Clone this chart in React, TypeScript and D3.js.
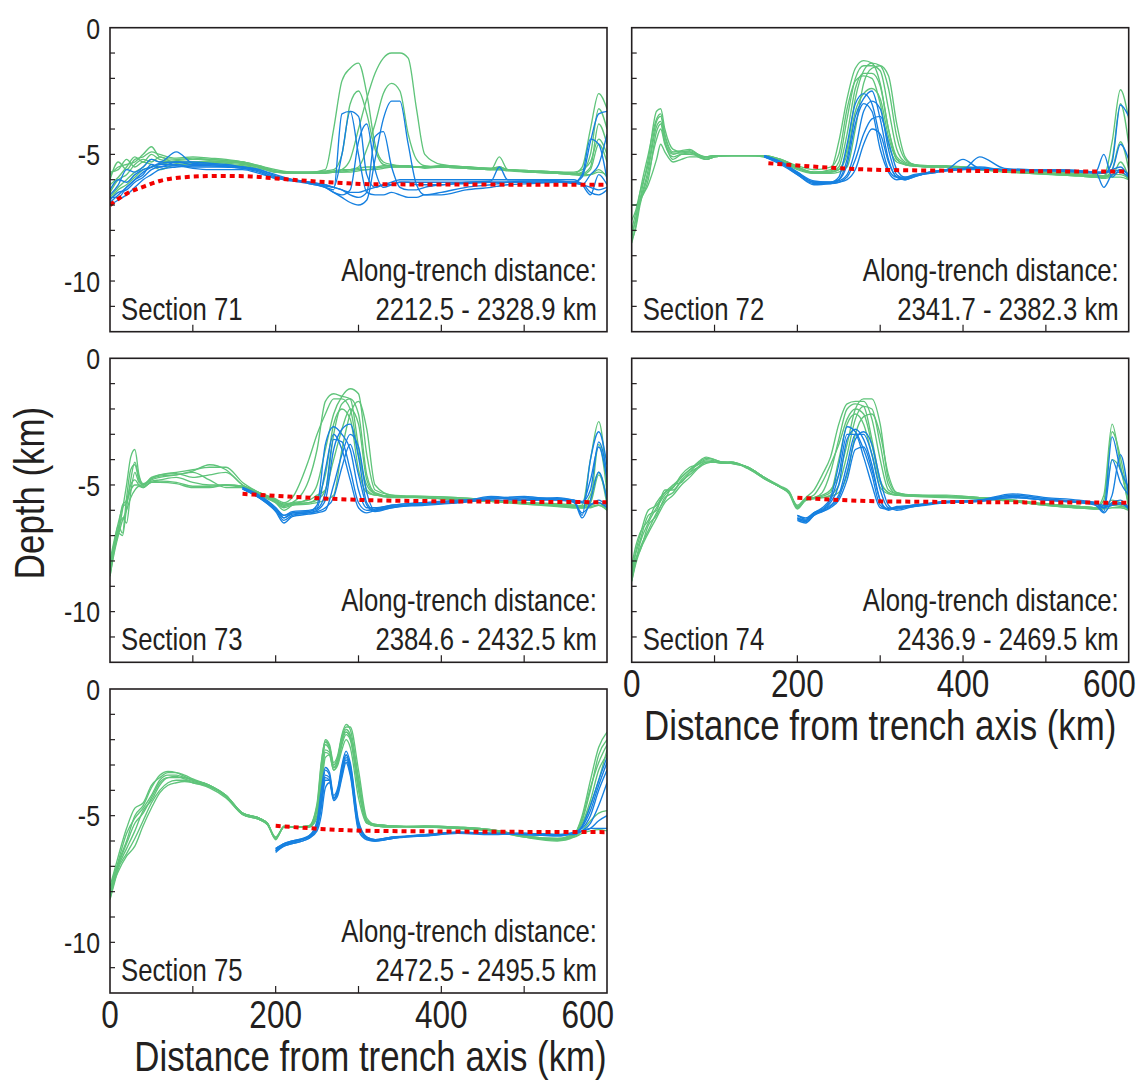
import React from 'react';
import * as d3 from 'd3';

// ---------- axes ----------
const DIST_TICKS = [0, 100, 200, 300, 400, 500, 600];
const DIST_LABELS = [0, 200, 400, 600];
const DEPTH_TICKS = [0, -1, -2, -3, -4, -5, -6, -7, -8, -9, -10, -11, -12];
const DEPTH_LABELS = [0, -5, -10];

const SECTION_NAMES = ['Section 71', 'Section 72', 'Section 73', 'Section 74', 'Section 75'];
const ALONG_TRENCH = [
  '2212.5 - 2328.9 km',
  '2341.7 - 2382.3 km',
  '2384.6 - 2432.5 km',
  '2436.9 - 2469.5 km',
  '2472.5 - 2495.5 km',
];

// ---------- Section 71 (distance km / elevation km) ----------
const grid71 = [0, 10, 20, 30, 40, 50, 60, 80, 100, 120, 140, 160, 180, 200, 220, 240, 260, 270, 280, 290, 300, 310, 320, 330, 340, 350, 360, 370, 380, 400, 430, 460, 470, 480, 510, 540, 560, 570, 580, 590, 600];
const green71 = [
  [-5.8, -5.5, -5.4, -5.3, -5.0, -4.7, -5.1, -5.2, -5.15, -5.2, -5.25, -5.3, -5.45, -5.6, -5.7, -5.7, -5.6, -4.0, -2.1, -1.6, -1.4, -2.6, -4.6, -5.3, -5.4, -5.45, -5.45, -5.5, -5.5, -5.5, -5.55, -5.6, -5.6, -5.6, -5.7, -5.75, -5.8, -5.7, -5.0, -3.2, -4.0],
  [-6.2, -5.9, -5.5, -5.1, -5.3, -5.0, -5.2, -5.3, -5.3, -5.25, -5.3, -5.35, -5.5, -5.65, -5.7, -5.75, -5.75, -5.7, -5.6, -5.2, -4.0, -2.8, -1.8, -1.2, -1.0, -1.0, -1.2, -3.2, -5.0, -5.4, -5.5, -5.55, -5.5, -5.6, -5.65, -5.7, -5.75, -5.5, -4.0, -2.6, -3.2],
  [-6.5, -6.0, -5.8, -5.4, -5.2, -5.3, -5.1, -5.35, -5.3, -5.3, -5.35, -5.4, -5.5, -5.7, -5.7, -5.7, -5.65, -5.6, -5.0, -3.0, -2.5, -3.4, -4.8, -5.4, -5.45, -5.45, -5.5, -5.5, -5.5, -5.5, -5.55, -5.6, -5.1, -5.6, -5.7, -5.75, -5.8, -5.8, -5.6, -4.6, -5.3],
  [-6.7, -6.3, -6.0, -5.7, -5.5, -5.2, -5.3, -5.25, -5.2, -5.2, -5.25, -5.3, -5.45, -5.65, -5.75, -5.75, -5.7, -5.7, -5.7, -5.65, -5.6, -5.6, -5.55, -5.5, -5.5, -5.5, -5.5, -5.5, -5.5, -5.45, -5.5, -5.55, -5.5, -5.6, -5.65, -5.7, -5.75, -5.75, -5.5, -3.8, -4.6],
  [-6.0, -5.3, -5.6, -5.2, -5.1, -4.9, -5.0, -5.15, -5.1, -5.15, -5.2, -5.3, -5.5, -5.7, -5.7, -5.7, -5.7, -5.65, -5.6, -5.6, -5.55, -5.5, -5.5, -5.45, -5.45, -5.45, -5.45, -5.5, -5.5, -5.45, -5.5, -5.6, -5.6, -5.6, -5.65, -5.7, -5.75, -5.8, -5.8, -5.7, -5.8],
  [-5.7, -5.6, -5.2, -5.5, -5.3, -5.4, -5.6, -5.4, -5.4, -5.35, -5.4, -5.45, -5.55, -5.7, -5.75, -5.75, -5.7, -5.7, -5.65, -5.6, -5.5, -4.8, -3.8, -2.6, -2.2, -2.5, -4.2, -5.2, -5.45, -5.5, -5.5, -5.55, -5.55, -5.6, -5.7, -5.7, -5.7, -5.6, -5.3, -4.4, -5.0],
  [-6.8, -6.4, -6.2, -5.9, -5.6, -5.5, -5.4, -5.3, -5.35, -5.3, -5.3, -5.35, -5.5, -5.7, -5.75, -5.75, -5.7, -5.7, -5.7, -5.7, -5.65, -5.6, -5.6, -5.55, -5.5, -5.5, -5.5, -5.5, -5.55, -5.5, -5.55, -5.6, -5.6, -5.65, -5.7, -5.75, -5.8, -5.85, -5.8, -5.6, -5.9],
];
const blueGrid71 = grid71;
const blue71 = [
  [-6.9, -6.6, -6.3, -6.0, -5.8, -5.4, -5.5, -5.3, -5.3, -5.35, -5.4, -5.5, -5.6, -5.8, -6.0, -6.1, -6.2, -6.3, -5.0, -3.3, -3.5, -5.8, -6.3, -6.2, -6.1, -6.0, -6.0, -6.0, -6.0, -6.0, -6.0, -6.0, -6.0, -6.0, -6.0, -6.05, -6.1, -5.9, -4.5, -3.4, -3.3],
  [-6.6, -6.2, -5.6, -5.7, -5.5, -5.2, -5.3, -4.9, -5.35, -5.4, -5.45, -5.5, -5.6, -5.85, -6.0, -6.1, -6.3, -6.5, -6.6, -6.4, -4.5, -3.8, -5.6, -6.3, -6.2, -6.1, -6.1, -6.2, -6.2, -6.2, -6.1, -6.05, -5.5, -6.0, -6.0, -6.0, -6.0, -6.2, -6.6, -5.8, -6.2],
  [-7.0, -6.8, -6.6, -6.3, -6.0, -5.8, -5.6, -5.5, -5.45, -5.45, -5.5, -5.55, -5.65, -5.9, -6.0, -6.15, -6.3, -6.5, -6.7, -6.9, -7.0, -6.8, -5.2, -3.6, -2.9, -2.9, -4.6, -6.2, -6.6, -6.5, -6.3, -6.2, -6.15, -6.1, -6.05, -6.05, -6.1, -5.8, -4.4, -4.6, -6.0],
  [-6.4, -6.0, -6.1, -5.8, -5.6, -5.5, -5.4, -5.4, -5.5, -5.5, -5.5, -5.55, -5.7, -5.95, -6.0, -6.1, -6.25, -6.3, -6.4, -6.5, -6.5, -6.4, -6.3, -6.2, -6.2, -6.1, -6.1, -6.1, -6.1, -6.1, -6.1, -6.1, -6.1, -6.1, -6.1, -6.1, -6.15, -6.2, -6.3, -6.4, -6.3],
  [-6.8, -6.5, -6.4, -6.1, -5.9, -5.6, -5.5, -5.45, -5.55, -5.6, -5.6, -5.6, -5.75, -5.95, -6.05, -6.15, -6.3, -6.4, -3.4, -3.3, -5.0, -6.5, -6.6, -6.6, -6.5, -6.6, -6.7, -6.7, -6.6, -6.6, -6.4, -6.3, -6.25, -6.2, -6.15, -6.1, -6.1, -6.2, -5.8, -5.4, -4.2],
  [-6.7, -6.7, -6.3, -6.0, -5.7, -5.5, -5.35, -5.3, -5.4, -5.4, -5.45, -5.5, -5.65, -5.9, -6.0, -6.1, -6.2, -6.3, -6.4, -6.6, -6.7, -6.5, -4.3, -4.1, -5.5, -6.3, -6.4, -6.4, -6.3, -6.2, -6.15, -6.1, -6.1, -6.1, -6.1, -6.1, -6.1, -6.15, -6.5, -6.6, -6.4],
];
const ref71: [number, number][] = [[0, -7.0], [20, -6.55], [40, -6.28], [60, -6.05], [90, -5.9], [130, -5.85], [170, -5.87], [200, -5.95], [240, -6.05], [280, -6.13], [320, -6.18], [600, -6.2]];

// ---------- Section 72 ----------
const grid72 = [0, 5, 10, 20, 30, 35, 40, 50, 60, 70, 80, 90, 100, 120, 140, 160, 180, 200, 220, 240, 250, 260, 270, 280, 290, 300, 310, 320, 330, 340, 360, 380, 400, 420, 450, 480, 510, 540, 560, 570, 580, 590, 600];
const green72 = [
  [-8.5, -7.8, -6.8, -5.2, -3.3, -3.2, -4.0, -4.8, -4.9, -4.85, -5.0, -5.1, -5.05, -5.05, -5.05, -5.05, -5.2, -5.5, -5.7, -5.6, -4.5, -2.8, -1.6, -1.3, -1.4, -2.2, -4.0, -5.2, -5.4, -5.45, -5.45, -5.5, -5.55, -5.6, -5.65, -5.7, -5.75, -5.8, -5.85, -5.85, -5.2, -3.0, -4.6],
  [-8.3, -7.5, -6.5, -5.0, -3.6, -3.4, -4.2, -4.9, -4.85, -4.8, -5.0, -5.2, -5.1, -5.05, -5.05, -5.05, -5.25, -5.55, -5.7, -5.65, -5.3, -3.6, -2.0, -1.5, -1.5, -1.7, -3.2, -4.8, -5.3, -5.4, -5.5, -5.5, -5.55, -5.6, -5.65, -5.7, -5.8, -5.85, -5.9, -5.9, -5.6, -4.5, -5.6],
  [-8.0, -7.3, -6.8, -5.6, -3.9, -3.7, -4.5, -5.0, -4.9, -4.9, -5.05, -5.1, -5.05, -5.05, -5.05, -5.05, -5.2, -5.5, -5.75, -5.7, -5.6, -4.8, -2.8, -1.7, -1.4, -1.5, -2.4, -4.3, -5.2, -5.4, -5.45, -5.5, -5.5, -5.55, -5.6, -5.7, -5.75, -5.8, -5.85, -5.85, -4.5, -2.45, -3.6],
  [-7.6, -7.2, -6.5, -5.4, -3.7, -3.5, -4.3, -4.95, -4.95, -4.9, -5.1, -5.2, -5.1, -5.05, -5.05, -5.05, -5.3, -5.6, -5.75, -5.7, -5.5, -4.2, -2.4, -1.8, -1.8, -2.3, -4.0, -5.1, -5.35, -5.45, -5.5, -5.5, -5.55, -5.6, -5.7, -5.75, -5.8, -5.85, -5.9, -5.9, -5.8, -5.7, -6.0],
  [-7.0, -7.0, -6.8, -6.0, -4.1, -3.8, -4.5, -5.2, -5.0, -4.95, -5.0, -5.15, -5.05, -5.05, -5.05, -5.05, -5.2, -5.45, -5.6, -5.5, -5.0, -3.2, -2.1, -1.9, -2.0, -3.0, -4.6, -5.3, -5.4, -5.45, -5.45, -5.45, -5.5, -5.55, -5.6, -5.65, -5.7, -5.75, -5.8, -5.85, -5.8, -5.8, -5.95],
  [-8.4, -7.9, -7.0, -5.8, -4.4, -4.0, -4.6, -5.1, -5.0, -5.0, -5.05, -5.1, -5.05, -5.05, -5.05, -5.1, -5.3, -5.55, -5.75, -5.75, -5.7, -5.5, -4.0, -2.2, -1.6, -1.5, -1.9, -3.8, -5.1, -5.4, -5.5, -5.5, -5.55, -5.6, -5.65, -5.75, -5.8, -5.85, -5.9, -5.95, -5.9, -5.9, -6.0],
  [-8.1, -7.6, -6.9, -6.2, -5.2, -4.6, -4.9, -5.3, -5.2, -5.1, -5.1, -5.2, -5.1, -5.05, -5.05, -5.1, -5.25, -5.5, -5.7, -5.7, -5.6, -5.0, -3.3, -2.6, -2.4, -2.8, -4.3, -5.2, -5.4, -5.45, -5.45, -5.5, -5.5, -5.55, -5.65, -5.7, -5.75, -5.8, -5.85, -5.9, -5.85, -5.3, -5.9],
];
const blueGrid72 = [160, 180, 200, 220, 240, 250, 260, 270, 280, 290, 300, 310, 320, 330, 340, 360, 380, 400, 420, 450, 480, 510, 540, 560, 570, 580, 590, 600];
const blue72 = [
  [-5.05, -5.3, -5.7, -6.1, -6.1, -5.9, -4.6, -3.0, -2.6, -3.0, -4.4, -5.6, -5.9, -5.9, -5.8, -5.7, -5.6, -5.55, -5.55, -5.6, -5.6, -5.6, -5.65, -5.7, -5.7, -5.6, -4.6, -5.2],
  [-5.1, -5.35, -5.8, -6.15, -6.15, -6.0, -5.2, -3.5, -2.8, -2.5, -3.6, -5.2, -5.9, -6.0, -5.9, -5.7, -5.6, -5.2, -5.55, -5.6, -5.6, -5.65, -5.65, -5.7, -5.0, -5.9, -5.6, -5.8],
  [-5.05, -5.3, -5.75, -6.1, -6.1, -6.05, -5.8, -4.8, -3.3, -2.9, -3.2, -4.8, -5.8, -5.95, -5.85, -5.75, -5.65, -5.6, -5.1, -5.55, -5.6, -5.65, -5.7, -5.7, -5.75, -5.3, -3.05, -3.5],
  [-5.1, -5.4, -5.8, -6.2, -6.15, -6.1, -6.0, -5.6, -4.6, -4.0, -4.2, -5.3, -5.9, -6.0, -5.9, -5.7, -5.6, -5.55, -5.55, -5.6, -5.6, -5.6, -5.65, -5.7, -6.3, -5.8, -5.7, -5.9],
  [-5.05, -5.3, -5.7, -6.05, -6.1, -6.0, -5.4, -3.8, -3.0, -3.3, -4.8, -5.7, -6.0, -5.95, -5.85, -5.75, -5.65, -5.6, -5.6, -5.6, -5.65, -5.65, -5.7, -5.75, -5.75, -5.6, -5.5, -5.9],
  [-5.1, -5.35, -5.75, -6.1, -6.15, -6.1, -5.9, -5.2, -4.2, -3.6, -3.5, -4.5, -5.6, -5.9, -5.85, -5.7, -5.6, -5.55, -5.5, -5.6, -5.6, -5.6, -5.65, -5.7, -5.7, -5.7, -5.6, -5.8],
];
const ref72: [number, number][] = [[165, -5.35], [312, -5.62], [600, -5.68]];

// ---------- Section 73 ----------
const grid73 = [0, 5, 10, 15, 20, 25, 30, 35, 40, 50, 60, 80, 100, 120, 140, 160, 180, 200, 210, 220, 240, 250, 260, 270, 280, 290, 300, 310, 320, 340, 380, 420, 460, 500, 540, 560, 570, 580, 590, 600];
const green73 = [
  [-8.6, -7.6, -6.9, -6.0, -5.0, -3.9, -3.6, -4.6, -5.0, -4.7, -4.6, -4.5, -4.4, -4.3, -4.3, -4.9, -5.3, -5.6, -5.8, -5.7, -4.8, -3.6, -1.7, -1.4, -1.5, -1.6, -3.5, -5.2, -5.4, -5.45, -5.5, -5.6, -5.65, -5.7, -5.8, -5.85, -5.8, -4.0, -2.5, -5.0],
  [-8.4, -7.4, -6.6, -6.9, -5.5, -4.4, -4.2, -4.8, -5.0, -4.8, -4.7, -4.6, -4.45, -4.2, -4.4, -5.0, -5.35, -5.7, -6.0, -5.8, -5.5, -5.0, -3.6, -2.2, -1.5, -1.2, -1.4, -3.8, -5.2, -5.4, -5.5, -5.55, -5.6, -5.7, -5.8, -5.85, -5.85, -5.4, -4.5, -5.8],
  [-8.2, -7.3, -6.7, -5.8, -5.6, -5.0, -4.8, -5.0, -5.1, -4.85, -4.8, -4.7, -4.9, -5.0, -5.0, -5.05, -5.3, -5.6, -5.75, -5.7, -5.6, -5.4, -5.2, -3.0, -1.8, -1.6, -2.2, -4.6, -5.3, -5.45, -5.45, -5.5, -5.6, -5.7, -5.75, -5.8, -5.85, -5.6, -3.4, -5.3],
  [-8.5, -7.5, -6.8, -6.3, -6.5, -5.3, -4.5, -4.9, -5.0, -4.75, -4.6, -4.55, -4.7, -4.6, -4.5, -5.0, -5.35, -5.65, -5.85, -5.75, -5.7, -5.5, -4.6, -2.6, -2.0, -2.4, -4.4, -5.3, -5.4, -5.45, -5.5, -5.55, -5.65, -5.75, -5.8, -5.9, -5.9, -5.8, -5.7, -6.0],
  [-8.0, -7.2, -6.5, -5.9, -5.7, -5.2, -5.0, -5.0, -5.05, -4.9, -4.85, -4.9, -5.05, -5.05, -5.0, -5.05, -5.3, -5.55, -5.7, -5.5, -4.0, -3.0, -2.2, -1.6, -1.6, -2.0, -3.8, -5.0, -5.35, -5.45, -5.5, -5.6, -5.65, -5.75, -5.85, -5.9, -5.9, -5.9, -5.8, -6.0],
  [-8.3, -7.4, -6.9, -7.0, -5.9, -4.8, -4.1, -4.7, -4.95, -4.75, -4.65, -4.6, -4.5, -4.8, -5.1, -5.1, -5.4, -5.7, -5.9, -5.8, -5.75, -5.7, -5.6, -5.4, -3.6, -2.2, -1.7, -2.8, -5.0, -5.4, -5.45, -5.5, -5.6, -5.7, -5.75, -5.8, -5.85, -5.7, -4.6, -5.5],
  [-8.6, -7.7, -7.0, -6.4, -6.0, -5.5, -5.2, -5.05, -5.1, -4.9, -4.9, -4.95, -5.1, -5.1, -5.0, -5.1, -5.3, -5.6, -5.8, -5.75, -5.7, -5.6, -5.2, -4.0, -2.8, -2.0, -2.6, -4.8, -5.35, -5.5, -5.5, -5.6, -5.65, -5.7, -5.8, -5.85, -5.9, -5.85, -5.8, -5.95],
];
const blueGrid73 = [160, 180, 200, 210, 220, 240, 250, 260, 270, 280, 290, 300, 310, 320, 340, 380, 420, 460, 500, 540, 560, 570, 580, 590, 600];
const blue73 = [
  [-5.1, -5.4, -5.9, -6.3, -6.1, -6.05, -5.8, -3.4, -2.7, -3.0, -3.6, -5.2, -5.9, -5.9, -5.8, -5.7, -5.65, -5.5, -5.6, -5.55, -5.6, -6.2, -4.0, -2.9, -4.2],
  [-5.15, -5.5, -6.0, -6.4, -6.2, -6.1, -6.0, -5.6, -3.6, -2.8, -2.6, -3.9, -5.7, -6.0, -5.85, -5.75, -5.7, -5.45, -5.55, -5.5, -5.6, -5.7, -4.8, -3.5, -4.8],
  [-5.1, -5.45, -5.95, -6.2, -6.1, -6.05, -5.95, -5.3, -3.2, -3.3, -4.4, -5.7, -6.0, -5.95, -5.8, -5.7, -5.65, -5.55, -5.45, -5.6, -5.65, -6.3, -5.6, -4.5, -5.6],
  [-5.15, -5.5, -6.05, -6.5, -6.25, -6.15, -6.1, -6.0, -5.0, -3.8, -3.0, -3.5, -5.3, -6.0, -5.9, -5.75, -5.7, -5.6, -5.6, -5.6, -5.65, -5.7, -5.75, -5.7, -5.9],
  [-5.1, -5.45, -5.9, -6.2, -6.05, -6.0, -5.9, -4.4, -3.0, -3.6, -4.8, -5.9, -6.1, -6.0, -5.85, -5.8, -5.7, -5.5, -5.6, -5.55, -5.7, -6.1, -5.8, -5.6, -5.85],
  [-5.15, -5.5, -6.0, -6.3, -6.15, -6.1, -6.05, -5.9, -5.5, -4.3, -3.4, -4.6, -5.8, -6.05, -5.9, -5.7, -5.6, -5.55, -5.5, -5.55, -5.6, -5.65, -5.2, -3.3, -4.5],
];
const ref73: [number, number][] = [[160, -5.35], [340, -5.62], [600, -5.68]];

// ---------- Section 74 ----------
const grid74 = [0, 5, 10, 20, 30, 40, 50, 60, 70, 80, 90, 100, 110, 120, 140, 160, 180, 190, 200, 210, 220, 230, 240, 250, 260, 270, 280, 290, 300, 310, 320, 340, 380, 420, 460, 500, 540, 560, 570, 580, 590, 600];
const green74 = [
  [-8.8, -8.0, -7.3, -6.5, -5.9, -5.4, -5.1, -4.7, -4.4, -4.2, -4.0, -4.05, -4.1, -4.1, -4.3, -4.7, -5.1, -5.3, -5.8, -5.5, -5.2, -4.6, -3.9, -2.6, -1.8, -1.7, -1.7, -2.4, -4.0, -5.2, -5.35, -5.4, -5.45, -5.5, -5.6, -5.75, -5.85, -5.9, -5.4, -2.6, -4.2, -5.8],
  [-8.5, -7.7, -7.2, -6.2, -6.0, -5.2, -5.2, -4.8, -4.5, -4.3, -4.1, -4.1, -4.1, -4.15, -4.3, -4.75, -5.1, -5.3, -5.9, -5.6, -5.5, -5.3, -4.5, -3.2, -2.0, -1.8, -1.9, -3.2, -4.8, -5.3, -5.4, -5.4, -5.45, -5.5, -5.65, -5.8, -5.9, -5.9, -5.8, -4.0, -4.4, -5.9],
  [-8.7, -8.0, -7.5, -6.8, -6.1, -5.6, -5.0, -4.9, -4.5, -4.15, -3.95, -4.0, -4.1, -4.1, -4.3, -4.7, -5.05, -5.25, -5.85, -5.6, -5.5, -5.4, -5.2, -4.6, -3.4, -2.0, -1.6, -1.6, -2.6, -4.8, -5.3, -5.4, -5.4, -5.5, -5.6, -5.75, -5.85, -5.9, -5.6, -2.9, -3.9, -5.6],
  [-8.2, -7.4, -6.9, -6.4, -5.7, -5.3, -5.1, -4.6, -4.3, -4.2, -4.05, -4.1, -4.15, -4.1, -4.35, -4.75, -5.1, -5.3, -5.9, -5.55, -5.4, -4.9, -4.2, -3.4, -2.4, -2.0, -2.2, -3.4, -4.9, -5.3, -5.4, -5.45, -5.45, -5.55, -5.65, -5.8, -5.9, -5.95, -5.9, -5.7, -5.8, -5.95],
  [-8.6, -7.9, -7.6, -6.6, -6.2, -5.5, -5.3, -4.85, -4.6, -4.3, -4.1, -4.1, -4.1, -4.15, -4.3, -4.7, -5.1, -5.3, -5.85, -5.6, -5.5, -5.5, -5.4, -5.0, -3.8, -2.4, -1.9, -2.0, -3.4, -5.0, -5.35, -5.4, -5.45, -5.5, -5.6, -5.75, -5.85, -5.9, -5.9, -5.8, -5.85, -5.9],
  [-8.4, -7.6, -7.0, -6.0, -5.8, -5.3, -5.0, -4.7, -4.4, -4.1, -3.9, -4.0, -4.1, -4.1, -4.35, -4.75, -5.1, -5.35, -5.95, -5.6, -5.5, -5.45, -5.3, -4.0, -2.6, -2.2, -2.6, -3.8, -5.1, -5.35, -5.4, -5.45, -5.5, -5.55, -5.65, -5.8, -5.9, -5.95, -5.95, -5.9, -5.9, -6.0],
  [-8.8, -8.1, -7.6, -6.9, -6.3, -5.7, -5.4, -5.0, -4.7, -4.35, -4.15, -4.1, -4.15, -4.15, -4.3, -4.7, -5.1, -5.3, -5.9, -5.6, -5.55, -5.5, -5.45, -5.3, -4.6, -3.0, -2.3, -2.2, -3.0, -4.6, -5.3, -5.4, -5.45, -5.5, -5.6, -5.75, -5.85, -5.9, -5.85, -5.6, -5.7, -5.9],
];
const blueGrid74 = [200, 210, 220, 230, 240, 250, 260, 270, 280, 290, 300, 310, 320, 340, 380, 420, 460, 500, 540, 560, 570, 580, 590, 600];
const blue74 = [
  [-6.3, -6.4, -6.1, -5.9, -5.5, -4.2, -2.7, -2.9, -3.6, -4.6, -5.8, -5.95, -5.9, -5.8, -5.65, -5.6, -5.4, -5.55, -5.65, -5.7, -5.9, -3.1, -4.4, -5.1],
  [-6.2, -6.3, -6.1, -6.0, -5.7, -5.0, -3.2, -2.8, -3.2, -4.2, -5.6, -5.95, -5.9, -5.85, -5.7, -5.6, -5.35, -5.5, -5.6, -5.7, -5.9, -5.4, -3.8, -5.5],
  [-6.4, -6.5, -6.2, -6.0, -5.8, -5.4, -4.2, -3.0, -3.0, -3.8, -5.2, -5.9, -5.95, -5.8, -5.7, -5.65, -5.5, -5.6, -5.7, -5.8, -6.1, -5.7, -5.6, -5.9],
  [-6.3, -6.4, -6.15, -6.05, -5.9, -5.6, -4.8, -3.6, -3.5, -4.4, -5.6, -6.0, -5.9, -5.85, -5.65, -5.6, -5.45, -5.6, -5.65, -5.75, -5.8, -5.75, -5.7, -5.95],
  [-6.2, -6.35, -6.1, -5.95, -5.6, -4.6, -3.0, -3.0, -3.9, -5.0, -5.9, -5.95, -5.85, -5.8, -5.7, -5.65, -5.4, -5.55, -5.65, -5.7, -6.05, -4.0, -4.9, -5.4],
  [-6.35, -6.45, -6.2, -6.05, -5.85, -5.5, -4.5, -3.2, -2.9, -3.4, -4.8, -5.8, -6.0, -5.85, -5.65, -5.6, -5.5, -5.6, -5.7, -5.75, -5.9, -5.8, -5.75, -5.9],
];
const ref74: [number, number][] = [[200, -5.5], [308, -5.65], [600, -5.7]];

// ---------- Section 75 ----------
const grid75 = [0, 5, 10, 20, 30, 40, 50, 60, 70, 80, 90, 100, 120, 140, 160, 180, 190, 200, 210, 220, 240, 250, 255, 260, 265, 270, 275, 280, 285, 290, 300, 310, 320, 340, 380, 420, 460, 500, 540, 560, 570, 580, 590, 600];
const green75 = [
  [-8.3, -7.6, -6.9, -6.0, -5.0, -4.6, -3.9, -3.4, -3.25, -3.3, -3.45, -3.6, -3.8, -4.2, -4.9, -5.1, -5.3, -5.9, -5.45, -5.45, -5.4, -4.6, -3.0, -2.0, -2.2, -2.9, -2.6, -1.8, -1.4, -1.6, -3.5, -5.2, -5.35, -5.4, -5.45, -5.45, -5.55, -5.8, -5.95, -5.75, -5.0, -3.6, -2.3, -1.7],
  [-8.1, -7.4, -6.8, -5.7, -5.1, -4.7, -4.2, -3.6, -3.4, -3.4, -3.5, -3.6, -3.8, -4.25, -4.95, -5.15, -5.35, -5.85, -5.45, -5.45, -5.45, -4.8, -3.3, -2.2, -2.4, -3.1, -2.8, -2.0, -1.6, -1.8, -3.8, -5.25, -5.4, -5.4, -5.45, -5.5, -5.6, -5.85, -5.95, -5.8, -5.2, -4.0, -2.6, -2.0],
  [-8.2, -7.5, -7.0, -6.3, -5.6, -4.8, -4.4, -3.8, -3.5, -3.45, -3.55, -3.65, -3.85, -4.2, -4.9, -5.1, -5.3, -5.9, -5.45, -5.45, -5.4, -5.0, -3.8, -2.5, -2.6, -3.2, -2.9, -2.2, -1.8, -2.0, -4.0, -5.3, -5.4, -5.45, -5.4, -5.45, -5.55, -5.8, -5.9, -5.7, -5.3, -4.4, -3.2, -2.6],
  [-7.8, -7.2, -6.6, -5.5, -4.7, -4.5, -3.8, -3.5, -3.3, -3.3, -3.4, -3.55, -3.8, -4.2, -4.9, -5.1, -5.3, -5.95, -5.4, -5.45, -5.4, -4.5, -2.9, -2.05, -2.3, -3.0, -2.7, -1.9, -1.5, -1.5, -3.2, -5.1, -5.35, -5.4, -5.45, -5.5, -5.6, -5.85, -6.0, -5.85, -5.6, -5.2, -4.9, -4.8],
  [-8.3, -7.7, -7.1, -6.5, -5.9, -5.2, -4.5, -4.0, -3.7, -3.6, -3.6, -3.7, -3.85, -4.25, -4.95, -5.15, -5.35, -5.9, -5.45, -5.45, -5.45, -5.1, -4.0, -2.7, -2.6, -3.2, -3.0, -2.4, -2.0, -2.3, -4.3, -5.3, -5.4, -5.45, -5.45, -5.5, -5.6, -5.8, -5.95, -5.8, -5.4, -4.6, -3.6, -2.4],
  [-8.0, -7.3, -6.9, -6.1, -5.3, -4.9, -4.3, -3.7, -3.5, -3.5, -3.5, -3.6, -3.8, -4.2, -4.9, -5.1, -5.3, -5.85, -5.45, -5.45, -5.4, -4.7, -3.2, -2.1, -2.3, -3.0, -2.7, -1.9, -1.7, -1.9, -3.6, -5.2, -5.35, -5.4, -5.45, -5.5, -5.55, -5.8, -5.9, -5.85, -5.7, -5.6, -5.55, -5.6],
  [-8.2, -7.6, -7.2, -6.6, -6.2, -5.4, -4.7, -4.1, -3.8, -3.7, -3.65, -3.7, -3.9, -4.3, -4.95, -5.15, -5.35, -5.9, -5.45, -5.45, -5.45, -5.0, -3.6, -2.4, -2.5, -3.1, -2.9, -2.1, -1.7, -1.9, -3.9, -5.25, -5.4, -5.45, -5.4, -5.45, -5.55, -5.8, -5.95, -5.75, -5.1, -3.9, -2.9, -2.2],
];
const blueGrid75 = [200, 210, 220, 240, 250, 255, 260, 265, 270, 275, 280, 285, 290, 300, 310, 320, 340, 380, 420, 460, 500, 540, 560, 570, 580, 590, 600];
const blue75 = [
  [-6.4, -6.15, -6.05, -5.85, -5.2, -4.0, -3.1, -3.3, -4.2, -3.9, -3.0, -2.45, -2.9, -5.2, -5.85, -5.95, -5.85, -5.75, -5.65, -5.7, -5.7, -5.75, -5.7, -5.4, -4.6, -3.6, -2.7],
  [-6.3, -6.1, -6.0, -5.8, -5.4, -4.5, -3.4, -3.5, -4.3, -4.0, -3.2, -2.6, -3.1, -5.4, -5.9, -6.0, -5.9, -5.8, -5.7, -5.75, -5.7, -5.75, -5.65, -5.5, -5.0, -4.0, -3.2],
  [-6.45, -6.2, -6.1, -5.9, -5.6, -5.0, -3.9, -3.7, -4.4, -4.2, -3.5, -2.9, -3.4, -5.6, -5.95, -6.0, -5.9, -5.75, -5.65, -5.7, -5.75, -5.8, -5.7, -5.6, -5.3, -4.6, -3.7],
  [-6.35, -6.15, -6.05, -5.8, -5.3, -4.3, -3.2, -3.4, -4.3, -4.0, -3.1, -2.6, -3.0, -5.3, -5.85, -5.95, -5.85, -5.8, -5.7, -5.7, -5.7, -5.75, -5.75, -5.6, -5.5, -5.2, -5.0],
  [-6.4, -6.2, -6.1, -5.9, -5.5, -4.7, -3.6, -3.6, -4.35, -4.1, -3.3, -2.8, -3.3, -5.5, -5.9, -6.0, -5.9, -5.75, -5.7, -5.7, -5.75, -5.8, -5.7, -5.6, -5.5, -5.5, -5.5],
  [-6.3, -6.1, -6.0, -5.85, -5.45, -4.6, -3.5, -3.6, -4.3, -4.1, -3.4, -2.7, -3.2, -5.4, -5.9, -5.95, -5.85, -5.8, -5.65, -5.7, -5.7, -5.75, -5.7, -5.45, -4.8, -3.8, -2.9],
];
const ref75: [number, number][] = [[200, -5.4], [315, -5.6], [600, -5.65]];

// ---------- layout ----------
const W = 1146;
const H = 1084;
const PW = 497;
const PH = 304;
const COL_X = [110, 631.7];
const ROW_Y = [27.7, 358.3, 689];
const GREEN = '#5fc47a';
const BLUE = '#1680e0';
const RED = '#f20000';
const INK = '#231f20';
const FONT = "'Liberation Sans', Arial, sans-serif";
// horizontal squeeze giving the condensed sans look
const NARROW = 0.83;

type NarrowProps = {
  x: number;
  y: number;
  size: number;
  anchor?: 'start' | 'middle' | 'end';
  rotate?: number;
  dy?: string;
  children: React.ReactNode;
};

function NarrowText({ x, y, size, anchor = 'start', rotate = 0, dy, children }: NarrowProps) {
  const rot = rotate ? ` rotate(${rotate})` : '';
  return (
    <text
      transform={`translate(${x},${y})${rot} scale(${NARROW},1)`}
      textAnchor={anchor}
      fontSize={size}
      dy={dy}
      fill={INK}
    >
      {children}
    </text>
  );
}

type PanelDef = {
  col: number;
  row: number;
  grid: number[];
  green: number[][];
  blueGrid: number[];
  blue: number[][];
  ref: [number, number][];
  xLabels: boolean;
  yLabels: boolean;
};

const PANELS: PanelDef[] = [
  { col: 0, row: 0, grid: grid71, green: green71, blueGrid: blueGrid71, blue: blue71, ref: ref71, xLabels: false, yLabels: true },
  { col: 1, row: 0, grid: grid72, green: green72, blueGrid: blueGrid72, blue: blue72, ref: ref72, xLabels: false, yLabels: false },
  { col: 0, row: 1, grid: grid73, green: green73, blueGrid: blueGrid73, blue: blue73, ref: ref73, xLabels: false, yLabels: true },
  { col: 1, row: 1, grid: grid74, green: green74, blueGrid: blueGrid74, blue: blue74, ref: ref74, xLabels: true, yLabels: false },
  { col: 0, row: 2, grid: grid75, green: green75, blueGrid: blueGrid75, blue: blue75, ref: ref75, xLabels: true, yLabels: true },
];

function Panel({ def, index }: { def: PanelDef; index: number }) {
  const left = COL_X[def.col];
  const top = ROW_Y[def.row];
  const x = d3.scaleLinear().domain([0, 600]).range([left, left + PW]);
  const y = d3.scaleLinear().domain([0, -12]).range([top, top + PH]);
  const line = d3
    .line<[number, number]>()
    .x((d) => x(d[0]))
    .y((d) => y(d[1]))
    .curve(d3.curveMonotoneX);
  const clipId = `clip-${index}`;
  const bottom = top + PH;
  const right = left + PW;
  const lastLabel = DIST_LABELS[DIST_LABELS.length - 1];

  return (
    <g>
      <defs>
        <clipPath id={clipId}>
          <rect x={left} y={top} width={PW} height={PH} />
        </clipPath>
      </defs>
      <g clipPath={`url(#${clipId})`}>
        {def.green.map((p, i) => (
          <path
            key={`g${i}`}
            d={line(d3.zip(def.grid, p) as [number, number][]) || ''}
            fill="none"
            stroke={GREEN}
            strokeWidth={1.35}
          />
        ))}
        {def.blue.map((p, i) => (
          <path
            key={`b${i}`}
            d={line(d3.zip(def.blueGrid, p) as [number, number][]) || ''}
            fill="none"
            stroke={BLUE}
            strokeWidth={1.35}
          />
        ))}
        <path d={line(def.ref) || ''} fill="none" stroke={RED} strokeWidth={4} strokeDasharray="5 4" />
      </g>
      <rect x={left} y={top} width={PW} height={PH} fill="none" stroke={INK} strokeWidth={1.6} />
      {DEPTH_TICKS.slice(1, -1).map((t) => (
        <line key={`yt${t}`} x1={left} x2={left + 5} y1={y(t)} y2={y(t)} stroke={INK} strokeWidth={1.2} />
      ))}
      {DIST_TICKS.slice(1, -1).map((t) => (
        <line key={`xt${t}`} x1={x(t)} x2={x(t)} y1={bottom} y2={bottom - 7} stroke={INK} strokeWidth={1.2} />
      ))}
      {def.yLabels &&
        DEPTH_LABELS.map((t) => (
          <NarrowText key={`yl${t}`} x={left - 10} y={y(t)} dy="0.36em" size={30} anchor="end">
            {t === 0 ? '0' : `-${Math.abs(t)}`}
          </NarrowText>
        ))}
      {def.xLabels &&
        DIST_LABELS.map((t) =>
          t === lastLabel ? (
            <NarrowText key={`xl${t}`} x={x(t) + 7} y={bottom + 35} size={38} anchor="end">
              {t}
            </NarrowText>
          ) : (
            <NarrowText key={`xl${t}`} x={x(t)} y={bottom + 35} size={38} anchor="middle">
              {t}
            </NarrowText>
          )
        )}
      <NarrowText x={left + 11} y={bottom - 12} size={31}>
        {SECTION_NAMES[index]}
      </NarrowText>
      <NarrowText x={right - 10} y={bottom - 51} size={31} anchor="end">
        Along-trench distance:
      </NarrowText>
      <NarrowText x={right - 10} y={bottom - 12} size={31} anchor="end">
        {ALONG_TRENCH[index]}
      </NarrowText>
      {def.xLabels && (
        <NarrowText x={(left + right) / 2 + (def.col === 0 ? 12 : 0)} y={bottom + 78} size={42} anchor="middle">
          Distance from trench axis (km)
        </NarrowText>
      )}
    </g>
  );
}

export default function App() {
  return (
    <svg
      width={W}
      height={H}
      viewBox={`0 0 ${W} ${H}`}
      style={{ position: 'absolute', left: 0, top: 0, background: '#ffffff', fontFamily: FONT }}
    >
      <rect x={0} y={0} width={W} height={H} fill="#ffffff" />
      {PANELS.map((p, i) => (
        <Panel key={i} def={p} index={i} />
      ))}
      <NarrowText x={44} y={493} size={42} anchor="middle" rotate={-90}>
        Depth (km)
      </NarrowText>
    </svg>
  );
}
